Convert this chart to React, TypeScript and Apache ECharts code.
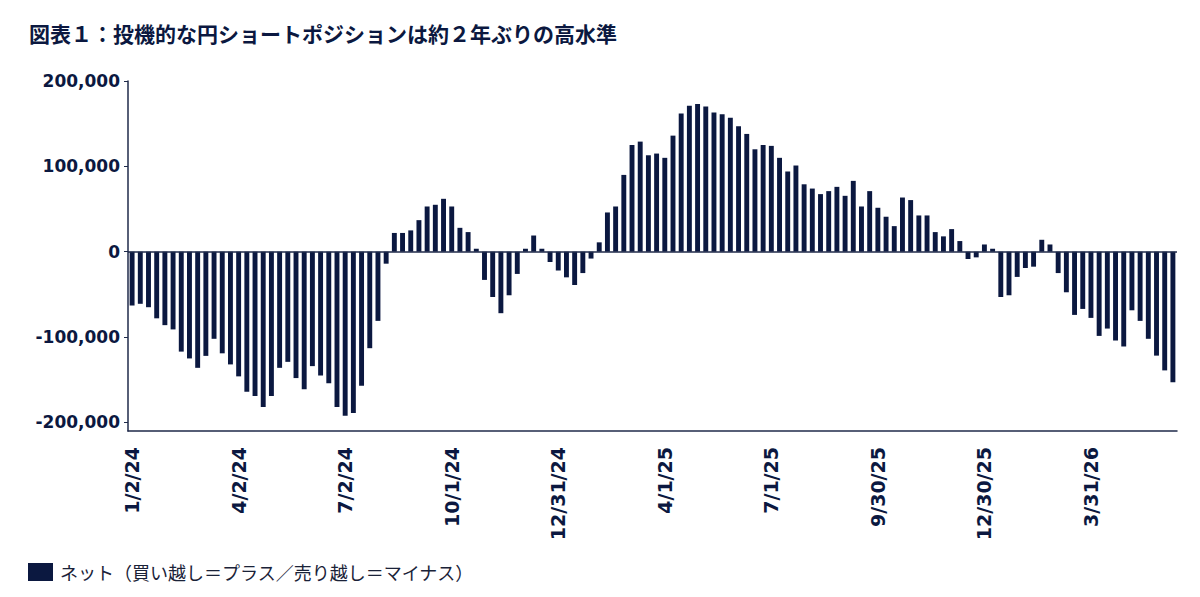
import React, { useEffect, useRef } from "react"
import * as echarts from "echarts"

const TITLE = "図表１：投機的な円ショートポジションは約２年ぶりの高水準"
const SERIES_NAME = "ネット（買い越し＝プラス／売り越し＝マイナス）"

// weekly (Tuesday) dates starting 1/2/24
const START_DATE = Date.UTC(2024, 0, 2)
const WEEK_COUNT = 128
const categories: string[] = []
for (let i = 0; i < WEEK_COUNT; i++) {
  const d = new Date(START_DATE + i * 7 * 86400000)
  categories.push(`${d.getUTCMonth() + 1}/${d.getUTCDate()}/${String(d.getUTCFullYear()).slice(2)}`)
}

const net2024a = [
  -63000, -61000, -65000, -78000, -86000, -91000, -117000, -125000, -136000, -122000,
  -102000, -119000, -132000, -146000, -164000, -169000, -182000, -169000, -136000, -129000,
  -148000, -161000, -134000, -145000, -154000, -182000, -192000, -189000, -157000, -113000,
  -81000, -14000,
]
const net2024b = [
  22000, 22000, 25000, 37000, 53000, 55000, 62000, 53000, 28000, 23000,
  3500, -33000, -53000, -72000, -51000, -26000, 3500, 19000, 3500, -12000,
  -22000, -30000, -39000, -25000, -8000, 11000, 46000, 53000,
]
const net2025a = [
  90000, 125000, 129000, 113000, 115000, 110000, 136000, 162000, 171000, 173000,
  170000, 163000, 161000, 157000, 147000, 138000, 120000, 125000, 124000, 110000,
  94000, 101000, 79000, 74000, 67500, 71000, 76000, 65500, 83000, 53000,
  71000, 51500, 41000, 30000, 63500,
]
const net2025b = [
  60500, 42500, 42500, 23000, 18000, 26500, 12500, -8500, -6600, 8500,
  3500, -53000, -51000, -29500, -19000, -17500, 14000, 8500, -25000, -47500,
  -74000, -67000, -77500, -98600, -90000, -104000, -111000, -68600, -81000, -102000,
  -121700, -139000, -153000,
]
const netValues = [...net2024a, ...net2024b, ...net2025a, ...net2025b]

const yTicks = [-200000, -100000, 0, 100000, 200000]

const NAVY = "#0b1840"
const AXIS = "#1f2a4a"

export default function App() {
  const ref = useRef<HTMLDivElement>(null)

  useEffect(() => {
    if (!ref.current) return
    const chart = echarts.init(ref.current, undefined, { renderer: "svg" })
    chart.setOption({
      animation: false,
      backgroundColor: "#ffffff",
      title: {
        text: TITLE,
        left: 29,
        top: 22,
        padding: 0,
        textStyle: {
          fontFamily: "Noto Sans CJK JP",
          fontSize: 21,
          fontWeight: "bold",
          color: NAVY,
        },
      },
      legend: {
        left: 28,
        top: 563,
        padding: 0,
        itemWidth: 25,
        itemHeight: 18,
        itemGap: 10,
        icon: "rect",
        textStyle: {
          fontFamily: "Noto Sans CJK JP",
          fontSize: 18,
          color: "#1a2238",
          padding: [0, 0, 0, 2],
        },
        data: [SERIES_NAME],
      },
      grid: { left: 128, right: 23, top: 81, bottom: 166, containLabel: false },
      xAxis: {
        type: "category",
        data: categories,
        position: "bottom",
        axisLine: { onZero: false, lineStyle: { color: AXIS, width: 1.5 } },
        axisTick: { interval: 12, alignWithLabel: true, length: 4, lineStyle: { color: AXIS } },
        axisLabel: {
          interval: 12,
          rotate: 90,
          margin: 16,
          fontFamily: "DejaVu Sans",
          fontSize: 19,
          fontWeight: "bold",
          color: NAVY,
        },
        splitLine: { show: false },
      },
      yAxis: {
        type: "value",
        min: -210000,
        max: 200000,
        axisLine: { show: true, lineStyle: { color: AXIS, width: 1.5 } },
        axisTick: { show: true, length: 4, customValues: yTicks, lineStyle: { color: AXIS } },
        axisLabel: {
          customValues: yTicks,
          margin: 8,
          fontFamily: "DejaVu Sans",
          fontSize: 17,
          fontWeight: "bold",
          color: NAVY,
          formatter: (v: number) => v.toLocaleString("en-US"),
        },
        splitLine: { show: false },
      },
      series: [
        {
          name: SERIES_NAME,
          type: "bar",
          data: netValues,
          barWidth: "60%",
          itemStyle: { color: NAVY },
          markLine: {
            silent: true,
            symbol: "none",
            label: { show: false },
            lineStyle: { color: AXIS, width: 1.5, type: "solid" },
            data: [{ yAxis: 0 }],
          },
        },
      ],
    })
    return () => chart.dispose()
  }, [])

  return (
    <div
      ref={ref}
      style={{ position: "absolute", left: 0, top: 0, width: 1200, height: 597 }}
    />
  )
}
